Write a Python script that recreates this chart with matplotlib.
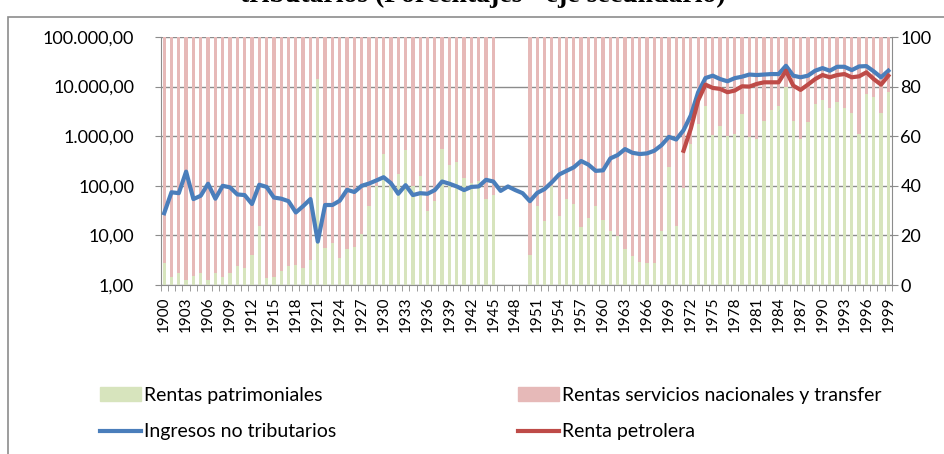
import numpy as np
import matplotlib
matplotlib.use("Agg")
import matplotlib.pyplot as plt
from matplotlib.patches import Patch, Rectangle
from matplotlib.lines import Line2D
from matplotlib.ticker import NullLocator

years = list(range(1900, 2000))
nan = np.nan

# % del total de ingresos no tributarios (eje secundario)
patrimoniales = [
    8.7, 3.3, 4.7, 2.1, 3.7, 4.7, 2.1, 4.7, 3.3, 4.7,        # 1900-1909
    7.5, 7.0, 12.0, 23.7, 2.9, 3.3, 5.6, 7.5, 7.9, 7.0,      # 1910-1919
    10.1, 83.0, 15.0, 17.0, 11.0, 14.4, 15.3, 20.6, 32.0, 40.0,  # 1920-1929
    52.8, 40.0, 44.8, 54.4, 40.0, 44.0, 30.0, 34.0, 55.0, 48.4,  # 1930-1939
    49.7, 43.0, 41.3, 42.0, 34.8, 36.3, nan, nan, nan, nan,      # 1940-1949
    12.0, 32.0, 26.0, 40.0, 28.0, 34.8, 32.5, 23.3, 27.0, 32.0,  # 1950-1959
    26.4, 21.6, 19.7, 14.7, 11.5, 9.3, 8.8, 8.8, 21.9, 47.7,     # 1960-1969
    23.7, 39.0, 57.0, 65.0, 72.0, 60.5, 64.3, 60.0, 61.0, 68.8,  # 1970-1979
    59.7, 58.7, 66.0, 70.7, 72.0, 80.0, 66.0, 59.0, 65.7, 73.0,  # 1980-1989
    74.4, 71.5, 73.6, 71.5, 69.3, 61.0, 77.0, 75.7, 69.3, 78.0,  # 1990-1999
]
# the rest of each bar up to 100 %
servicios = [100 - v for v in patrimoniales]

# eje principal (log)
ingresos = [
    28, 74, 71, 193, 54, 63, 110, 55, 100, 93,
    67, 65, 43, 105, 95, 58, 55, 49, 29, 39,
    54, 7.5, 41, 41, 50, 83, 75, 100, 111, 128,
    149, 113, 69, 103, 65, 71, 69, 82, 122, 110,
    97, 82, 95, 97, 132, 122, 79, 97, 82, 71,
    49, 72, 86, 118, 169, 200, 236, 316, 267, 200,
    205, 357, 417, 550, 464, 437, 450, 509, 661, 970,
    858, 1318, 2630, 7700, 14900, 16600, 14200, 12800, 14800, 15850,
    17500, 17100, 17500, 17900, 17900, 26300, 16600, 15400, 16600, 20900,
    23600, 20900, 25100, 25100, 21500, 25500, 25900, 20300, 15400, 20900,
]
petrolera_years = list(range(1971, 2000))
petrolera = [
    509, 1423, 5250, 10960, 9400, 8980, 7700, 8320, 10150,
    10000, 11300, 12200, 12200, 12200, 20900, 10470, 8580, 10960, 14200,
    17100, 15400, 17100, 17900, 15400, 16100, 19400, 14200, 10960, 16600,
]

left_ticks = [1, 10, 100, 1000, 10000, 100000]
left_labels = ["1,00", "10,00", "100,00", "1.000,00", "10.000,00", "100.000,00"]
right_ticks = [0, 20, 40, 60, 80, 100]
year_labels = [str(y) for y in years[::3]]

green = "#d7e4bd"
pink = "#e6b9b8"
blue = "#4a7ebb"
red = "#be4b48"
grey = "#8c8c8c"

plt.rcParams['font.family'] = ['Lato', 'DejaVu Sans']

fig = plt.figure(figsize=(9.44, 4.54), dpi=100)

# outer frame (cut by the picture edges)
fig.add_artist(Rectangle((8 / 944, -0.5), 2, 0.5 + 1 - 17 / 454,
                         transform=fig.transFigure, fill=False,
                         edgecolor=grey, lw=1.2))
# title only partly inside the picture, as in the source
fig.text(483 / 944, 1 - 2 / 454, "tributarios (Porcentajes - eje secundario)",
         ha="center", va="baseline", fontsize=20, fontweight="bold",
         family="Liberation Serif")

ax = fig.add_axes([160.5 / 944, 1 - 285 / 454, (892 - 160.5) / 944, (285 - 37) / 454])
idx = np.arange(len(years))
ax.bar(idx, patrimoniales, width=0.45, color=green, zorder=2)
ax.bar(idx, servicios, width=0.45, bottom=patrimoniales, color=pink, zorder=2)
ax.set_xlim(-0.5, len(years) - 0.5)
ax.set_ylim(0, 100)
ax.yaxis.grid(True, color=grey, lw=1)
ax.set_axisbelow(True)

ax.set_xticks(idx[::3], year_labels, rotation=90)
ax.set_xticks(np.arange(-0.5, len(years), 1), minor=True)
ax.tick_params(axis="x", which="major", length=0, pad=8, labelsize=11)
ax.tick_params(axis="x", which="minor", length=4, color=grey)

for s in ["left", "right", "bottom"]:
    ax.spines[s].set_color(grey)
ax.spines["top"].set_visible(False)

axl = ax.twinx()
axl.set_yscale("log")
axl.set_ylim(1, 100000)
axl.yaxis.tick_left()
axl.set_yticks(left_ticks, left_labels)
axl.yaxis.set_minor_locator(NullLocator())
axl.tick_params(axis="y", length=4, color=grey, pad=15, labelsize=13)
for s in axl.spines.values():
    s.set_visible(False)

# twinx moved these to the left, put them back on the right
ax.yaxis.tick_right()
ax.set_yticks(right_ticks, [str(t) for t in right_ticks])
ax.tick_params(axis="y", length=4, color=grey, pad=2, labelsize=13)

axl.plot(idx, ingresos, color=blue, lw=3)
pidx = [years.index(y) for y in petrolera_years]
axl.plot(pidx, petrolera, color=red, lw=3)

common = dict(loc="upper left", frameon=False, borderpad=0, borderaxespad=0,
              handlelength=2.1, handleheight=0.7, handletextpad=0.15,
              labelspacing=1.0, fontsize=14)
fig.legend([Patch(color=green), Line2D([], [], color=blue, lw=3)],
           ["Rentas patrimoniales", "Ingresos no tributarios"],
           bbox_to_anchor=(100 / 944, 1 - 387 / 454), **common)
fig.legend([Patch(color=pink), Line2D([], [], color=red, lw=3)],
           ["Rentas servicios nacionales y transfer", "Renta petrolera"],
           bbox_to_anchor=(518 / 944, 1 - 387 / 454), **common)

fig.savefig("out.png", dpi=100)
